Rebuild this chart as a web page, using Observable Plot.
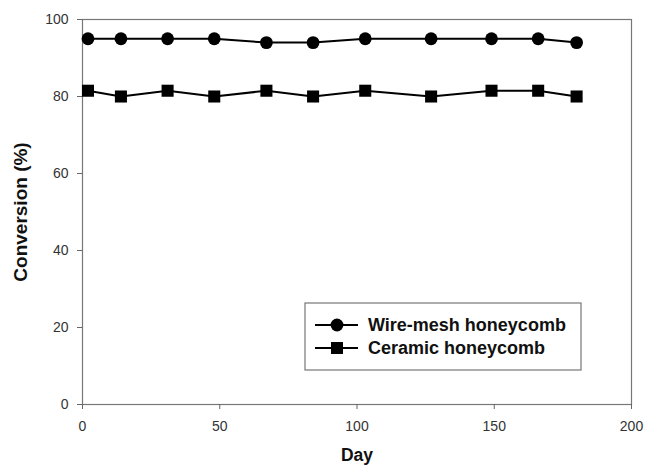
<!DOCTYPE html>
<html>
<head>
<meta charset="utf-8">
<script src="https://cdn.jsdelivr.net/npm/d3@7"></script>
<script src="https://cdn.jsdelivr.net/npm/@observablehq/plot@0.6"></script>
<style>
  html, body { margin: 0; padding: 0; background: #fff; }
  #chart svg { display: block; font-family: "Liberation Sans", Arial, sans-serif; }
</style>
</head>
<body>
<div id="chart"></div>
<script>
// Sampling days and conversion values for the two catalyst supports
const days = [2, 14, 31, 48, 67, 84, 103, 127, 149, 166, 180];
const wireMesh = [95, 95, 95, 95, 94, 94, 95, 95, 95, 95, 94];
const ceramic = [81.5, 80, 81.5, 80, 81.5, 80, 81.5, 80, 81.5, 81.5, 80];
const seriesNames = ["Wire-mesh honeycomb", "Ceramic honeycomb"];
const xTicks = [0, 50, 100, 150, 200];
const yTicks = [0, 20, 40, 60, 80, 100];

const rows = [
  ...days.map((d, i) => ({day: d, value: wireMesh[i], series: seriesNames[0]})),
  ...days.map((d, i) => ({day: d, value: ceramic[i], series: seriesNames[1]}))
];
const symbolOf = {[seriesNames[0]]: "circle", [seriesNames[1]]: "square"};
const rOf = {[seriesNames[0]]: 6.4, [seriesNames[1]]: 6.8};

const plot = Plot.plot({
  width: 645,
  height: 467,
  marginLeft: 82,
  marginRight: 14,
  marginTop: 19,
  marginBottom: 63,
  style: {fontFamily: "'Liberation Sans', Arial, sans-serif", fontSize: "14px", color: "#333", background: "#fff"},
  x: {domain: [0, 200]},
  y: {domain: [0, 100]},
  marks: [
    Plot.frame({stroke: "#777", strokeWidth: 1.2}),
    Plot.axisX({ticks: xTicks, tickSize: 5, tickPadding: 12, stroke: "#666", fontSize: 14,
      label: "Day", labelAnchor: "center", labelArrow: "none", labelOffset: 56}),
    Plot.axisY({ticks: yTicks, tickSize: 5, tickPadding: 9, stroke: "#666", fontSize: 14,
      label: "Conversion (%)", labelAnchor: "center", labelArrow: "none", labelOffset: 69}),
    ...seriesNames.map(name => Plot.line(rows.filter(r => r.series === name),
      {x: "day", y: "value", stroke: "#000", strokeWidth: 2})),
    ...seriesNames.map(name => Plot.dot(rows.filter(r => r.series === name),
      {x: "day", y: "value", symbol: () => symbolOf[name], r: rOf[name], fill: "#000", stroke: "none"}))
  ]
});

// bold axis titles
const svg = d3.select(plot);
svg.selectAll("[aria-label='x-axis label'] text")
  .attr("font-weight", "bold").attr("font-size", 17.5).attr("fill", "#111");
svg.selectAll("[aria-label='y-axis label'] text")
  .attr("font-weight", "bold").attr("font-size", 19).attr("fill", "#111");

// legend box inside the plot area
const lg = svg.append("g").attr("transform", "translate(305,303)");
lg.append("rect").attr("width", 276).attr("height", 67)
  .attr("fill", "#fff").attr("stroke", "#777").attr("stroke-width", 1.2);
seriesNames.forEach((name, i) => {
  const y = 22 + i * 23;
  lg.append("line").attr("x1", 10).attr("x2", 53).attr("y1", y).attr("y2", y)
    .attr("stroke", "#000").attr("stroke-width", 2);
  const sym = d3.symbol(symbolOf[name] === "circle" ? d3.symbolCircle : d3.symbolSquare,
    Math.PI * rOf[name] * rOf[name]);
  lg.append("path").attr("d", sym()).attr("transform", `translate(32,${y})`).attr("fill", "#000");
  lg.append("text").attr("x", 63).attr("y", y).attr("dy", "0.35em")
    .attr("text-anchor", "start")
    .attr("font-size", 18).attr("font-weight", "bold").attr("fill", "#111").text(name);
});

document.getElementById("chart").append(plot);
</script>
</body>
</html>
